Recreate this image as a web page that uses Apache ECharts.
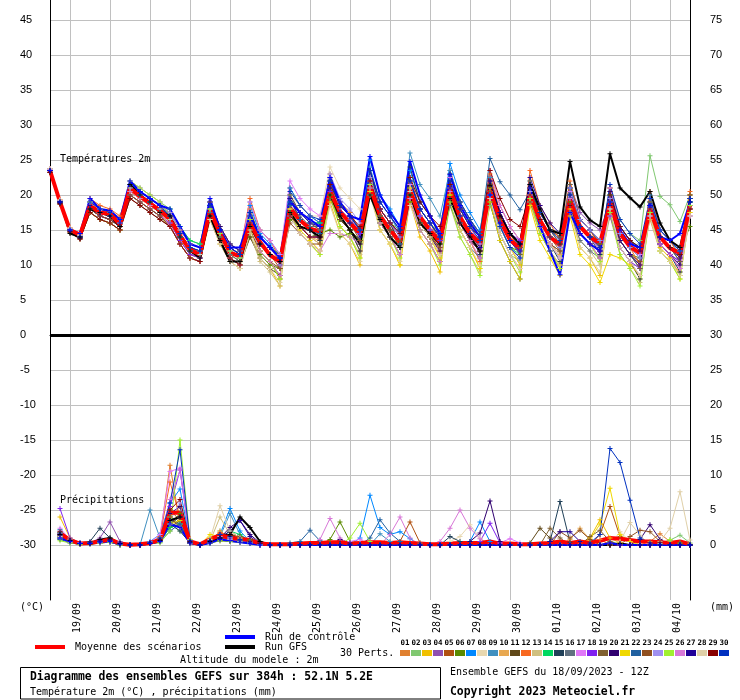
<!DOCTYPE html>
<html><head><meta charset="utf-8">
<script src="https://cdn.jsdelivr.net/npm/echarts@6/dist/echarts.min.js"></script>
<style>html,body{margin:0;padding:0;background:#fff}#chart{width:740px;height:700px}</style>
</head><body><div id="chart"></div>
<script>
// ---------- time base & ticks ----------
const tempHours = [0,6,12,18,24,30,36,42,48,54,60,66,72,78,84,90,96,102,108,114,120,126,132,138,144,150,156,162,168,174,180,186,192,198,204,210,216,222,228,234,240,246,252,258,264,270,276,282,288,294,300,306,312,318,324,330,336,342,348,354,360,366,372,378,384];
const precipHours = tempHours.slice(1);
const gridHours = [12,36,60,84,108,132,156,180,204,228,252,276,300,324,348,372];
const dateLabels = ['19/09','20/09','21/09','22/09','23/09','24/09','25/09','26/09','27/09','28/09','29/09','30/09','01/10','02/10','03/10','04/10'];
const leftTicks = [45,40,35,30,25,20,15,10,5,0,-5,-10,-15,-20,-25,-30];
const rightTicks = [75,70,65,60,55,50,45,40,35,30,25,20,15,10,5,0];
const pertNames = ['01','02','03','04','05','06','07','08','09','10','11','12','13','14','15','16','17','18','19','20','21','22','23','24','25','26','27','28','29','30'];
const pertColors = ['#e08030','#80c870','#f0c000','#9050b0','#b05010','#5a8a00','#0088ff','#e8d8b0','#4090c0','#e8a850','#604818','#f86820','#d0c080','#00d860','#204058','#607080','#e078f8','#8020f0','#806030','#300070','#f0d800','#2060a0','#905020','#a090f0','#a0f030','#d878d8','#200098','#e0d0a8','#880000','#0030c0'];

// ---------- temperature 2m (°C) ----------
const tempMean = [23.5,19,15,14.3,18.5,17.5,17.3,15.8,21,19.8,18.8,17.8,16.5,14.2,12.2,11.5,17.8,14.5,11.8,11.2,16,13.3,11.4,10.5,18.1,16.4,15.2,14.8,20.5,17.6,16,14.5,21.2,17.1,15,13.3,20.7,16.9,15,13.3,20.7,16.9,14.5,13.1,20.7,16.4,13.6,12.4,20,16.4,14,12.9,19.3,15.5,14,13.1,18.8,14.5,12.6,11.7,17.9,14,12.4,11.7,18.5];
const tempControl = [23.5,19,15,14.5,19.5,18,17.8,16.5,22,20.5,19.5,18.5,18,15.5,13,12.5,19.5,15,12.5,12.5,17,14,12.5,11,19,17.5,16.5,15.5,22.5,19,17,16.5,25.5,20,17.5,15.5,24.8,20,17,14.5,22.9,18.5,16,14,20,16,13.5,12,21,15.5,12,8.6,17.5,14.5,13,12,19,15,13,12.5,18.5,14,13.5,14.5,19];
const tempGFS = [23.5,19,14.5,14,18,17.5,17,15.5,21.5,20,19,17.5,17,14,12,11,17,13.5,10.5,10.5,15.5,13,11.5,10.5,17.5,15.5,15,14,20,17,15,13,20,16.5,14,12.5,20,16,14.5,13,19.5,16,14,12,21.4,17,14.5,13,21.5,18,15,14.5,24.8,18.3,16.4,15.5,25.9,21,19.6,18.3,20.5,16,13.5,12.5,19];
const tempP01 = [23.8,19.3,15.3,14.3,18,17,16.5,15.5,20.5,19.5,18.5,17.5,17,14.5,12.5,12,18,14.5,12,11,18,14,12.5,10.5,18,15.5,14,13,23,19,17.5,15,22,17,15,12.5,20.5,16,14,11.5,23.5,19,16.5,14,22.5,17.5,14.5,12.5,19,14.5,12,10,20.5,15.5,14,12,21,15.5,13.5,11.5,18,13,11.5,9.5,20];
const tempP02 = [23.5,19,15,14,19,18,17.5,16.5,22,21,20,19,18,15.5,13.5,13,19,15.5,13,12,16,13,11.5,10.5,19,17.5,16,16,19.5,16.5,15,13.5,21,17,15,13.5,21.5,18,16,14.5,19.5,16,13.5,12,18.5,14.5,11.5,10.5,21,17.5,15,14,19.5,15.5,14,13,21,16.5,14.5,13.5,25.6,19.8,18.6,16.2,20];
const tempP03 = [23.2,18.7,14.7,13.7,17.5,16.5,16,15,20,19,18,17,15.5,13,11,10.5,16.5,13,10.5,9.5,15.5,11,9.5,7,17.5,14.5,13,11.5,19,14.5,13,10,20.5,15,13,10,19,14,12,9,20,15,12.5,9.5,21,15.5,12.5,10,19.5,14.5,12,9.5,18,12.5,11,8.5,18.5,12.5,10.5,8,18,12.5,11,8.5,18.5];
const tempP04 = [23.5,19,15,14,18.5,17.5,17,16,21.5,20.5,19.5,18.5,16,13.5,11.5,11,18.5,15,12.5,11.5,17,14,12.5,11.5,18,16.5,15,15,21,18,16.5,15,22,18,16,14.5,20.5,17,15,13.5,19.5,16,13.5,12,20.5,16.5,13.5,12.5,21,17.5,15,14,21.5,17.5,16,15,19,14.5,12.5,11.5,17,13,11.5,10.5,18];
const tempP05 = [23.7,19.2,15.2,14.2,19,18,17.5,16.5,21,20,19,18,17.5,15,13,12.5,18.5,15,12.5,11.5,17,13,11.5,9.5,21,18.5,17,16,22.5,18.5,17,14.5,22,17,15,12.5,22.5,18,16,13.5,22.5,18,15.5,13,23.5,18.5,15.5,13.5,21,16.5,14,12,19.5,14.5,13,11,21,15.5,13.5,11.5,19,14,12.5,10.5,20];
const tempP06 = [23.5,19,15,14,17.5,16.5,16,15,20,19,18,17,15.5,13,11,10.5,17.5,14,11.5,10.5,14,11.5,10,9.5,16.5,15.5,14,14.5,15,14,14.5,13.5,21.5,18,16,15,19,16,14,13,20,17,14.5,13.5,19,15.5,12.5,12,20.5,17.5,15,14.5,19,15.5,14,13.5,17.5,13.5,11.5,11,17.5,14,12.5,12,15.5];
const tempP07 = [23.5,19,15,14,19,18,17.5,16.5,21.5,20.5,19.5,18.5,16.5,14,12,11.5,19,15.5,13,12,18.5,14.5,13,11,21,18.5,17,16,22.5,18.5,17,14.5,25,20,18,15.5,23.5,19,17,14.5,24.5,20,17.5,15,22.5,17.5,14.5,12.5,20,15.5,13,11,21.5,16.5,15,13,19,13.5,11.5,9.5,19,14,12.5,10.5,19];
const tempP08 = [23.8,19.3,15.3,14.3,18.5,17.5,17,16,21,20,19,18,16.5,14,12,11.5,17,13.5,11,10,17,14,12.5,11.5,20,18.5,17,17,24,21,19.5,18,20,16,14,12.5,18.5,15,13,11.5,19.5,16,13.5,12,20.5,16.5,13.5,12.5,19,15.5,13,12,18.5,14.5,13,12,17,12.5,10.5,9.5,18,14,12.5,11.5,19];
const tempP09 = [23.5,19,15,14,18.5,17.5,17,16,21.5,20.5,19.5,18.5,16.5,14,12,11.5,18.5,15,12.5,11.5,19,15,13.5,11.5,20,17.5,16,15,22.5,18.5,17,14.5,24,19,17,14.5,26,21.5,19.5,17,23.5,19,16.5,14,22.5,17.5,14.5,12.5,22,17.5,15,13,20.5,15.5,14,12,19,13.5,11.5,9.5,20,15,13.5,11.5,19];
const tempP10 = [23.5,19,15,14,18,17,16.5,15.5,21,20,19,18,16,13.5,11.5,11,17,13.5,11,10,16.5,13,11.5,10,17.5,15.5,14,13.5,22,18.5,17,15,21.5,17,15,13,20,16,14,12,21,17,14.5,12.5,22,17.5,14.5,13,19.5,15.5,13,11.5,21,16.5,15,13.5,18.5,13.5,11.5,10,16.5,12,10.5,9,17.5];
const tempP11 = [23.2,18.7,14.7,13.7,17.5,16.5,16,15,19.5,18.5,17.5,16.5,15.5,13,11,10.5,17,13.5,11,10,14,11,9.5,8.5,17,15.5,14,14,19.5,16.5,15,13.5,21,17,15,13.5,19.5,16,14,12.5,20.5,17,14.5,13,20.5,16.5,13.5,12.5,21,17.5,15,14,19.5,15.5,14,13,20,15.5,13.5,12.5,18,14,12.5,11.5,18];
const tempP12 = [23.8,19.3,15.3,14.3,19.5,18.5,18,17,21.5,20.5,19.5,18.5,17.5,15,13,12.5,19,15.5,13,12,19.5,15,13.5,11,19.5,16.5,15,13.5,21,16.5,15,12,23.5,18,16,13,22,17,15,12,21,16,13.5,10.5,23,17.5,14.5,12,23.5,18.5,16,13.5,22,16.5,15,12.5,20.5,14.5,12.5,10,20.5,15,13.5,11,20.5];
const tempP13 = [23.5,19,15,14,17.5,16.5,16,15,21,20,19,18,15.5,13,11,10.5,16.5,13,10.5,9.5,14.5,10.5,9,7,18,15.5,14,13,19.5,15.5,14,11.5,21,16,14,11.5,19.5,15,13,10.5,18.5,14,11.5,9,20.5,15.5,12.5,10.5,19,14.5,12,10,18.5,13.5,12,10,17,11.5,9.5,7.5,17,12,10.5,8.5,17];
const tempP14 = [23.5,19,15,14,18.5,17.5,17,16,21.5,20.5,19.5,18.5,18,15.5,13.5,13,19,15.5,13,12,17,14,12.5,11.5,19,17.5,16,16,19.5,16.5,15,13.5,20,16,14,12.5,20.5,17,15,13.5,21.5,18,15.5,14,19.5,15.5,12.5,11.5,20,16.5,14,13,18.5,14.5,13,12,20,15.5,13.5,12.5,18,14,12.5,11.5,19];
const tempP15 = [23.5,19,15,14,18.5,17.5,17,16,21,20,19,18,16.5,14,12,11.5,18,14.5,12,11,16.5,12,10.5,8,19.5,16.5,15,13.5,21,16.5,15,12,23.5,18,16,13,24,19,17,14,22,17,14.5,11.5,19,13.5,10.5,8,20.5,15.5,13,10.5,21,15.5,14,11.5,18.5,12.5,10.5,8,18.5,13,11.5,9,19.5];
const tempP16 = [23.5,19,15,14,19,18,17.5,16.5,21,20,19,18,16.5,14,12,11.5,17.5,14,11.5,10.5,17,14,12.5,11.5,18.5,17,15.5,15.5,20.5,17.5,16,14.5,20,16,14,12.5,19.5,16,14,12.5,18.5,15,12.5,11,20.5,16.5,13.5,12.5,19,15.5,13,12,17.5,13.5,12,11,19,14.5,12.5,11.5,19,15,13.5,12.5,18];
const tempP17 = [23.7,19.2,15.2,14.2,19,18,17.5,16.5,22,21,20,19,17,14.5,12.5,12,19,15.5,13,12,19,15,13.5,11.5,22,19.5,18,17,22.5,18.5,17,14.5,21,16,14,11.5,21.5,17,15,12.5,22.5,18,15.5,13,23.5,18.5,15.5,13.5,20,15.5,13,11,20.5,15.5,14,12,21,15.5,13.5,11.5,18,13,11.5,9.5,18];
const tempP18 = [23.5,19,15,14,18,17,16.5,15.5,20,19,18,17,16,13.5,11.5,11,17,13.5,11,10,16,13,11.5,10.5,17,15.5,14,14,20.5,17.5,16,14.5,22,18,16,14.5,20.5,17,15,13.5,19.5,16,13.5,12,21.5,17.5,14.5,13.5,20,16.5,14,13,18.5,14.5,13,12,17,12.5,10.5,9.5,17,13,11.5,10.5,17];
const tempP19 = [23.5,19,15,14,18.5,17.5,17,16,20.5,19.5,18.5,17.5,16.5,14,12,11.5,18,14.5,12,11,16,12,10.5,8.5,20,17.5,16,15,21.5,17.5,16,13.5,21,16,14,11.5,19.5,15,13,10.5,21.5,17,14.5,12,21.5,16.5,13.5,11.5,22,17.5,15,13,21.5,16.5,15,13,19,13.5,11.5,9.5,19,14,12.5,10.5,20];
const tempP20 = [23.3,18.8,14.8,13.8,18,17,16.5,15.5,21,20,19,18,16.5,14,12,11.5,19,15.5,13,12,16.5,13,11.5,10,18.5,16.5,15,14.5,22,18.5,17,15,22.5,18,16,14,20,16,14,12,23,19,16.5,14.5,22,17.5,14.5,13,20.5,16.5,14,12.5,21,16.5,15,13.5,20.5,15.5,13.5,12,17.5,13,11.5,10,18.5];
const tempP21 = [23.5,19,15,14,18.5,17.5,17,16,20.5,19.5,18.5,17.5,15.5,13,11,10.5,17,13.5,11,10,16.5,12,10.5,8,18,15,13.5,12,20,15.5,14,11,20.5,15,13,10,21,16,14,11,20,15,12.5,9.5,19,13.5,10.5,8,18.5,13.5,11,8.5,17,11.5,10,7.5,11.5,11,10,8.5,17.5,12,10.5,8,17.5];
const tempP22 = [23.5,19,15,14,18.5,17.5,17,16,21.5,20.5,19.5,18.5,16.5,14,12,11.5,18.5,15,12.5,11.5,17.5,14,12.5,11,18.5,16.5,15,14.5,22,18.5,17,15,21.5,17,15,13,22,18,16,14,23,19,16.5,14.5,25.2,21.9,20,17.9,20.5,16.5,14,12.5,21,16.5,15,13.5,19.5,14.5,12.5,11,19.5,15,13.5,12,19.5];
const tempP23 = [23.5,19,15,14,18,17,16.5,15.5,20,19,18,17,15.5,13,11,10.5,17,13.5,11,10,15,12,10.5,9.5,16,14.5,13,13,19.5,16.5,15,13.5,21,17,15,13.5,19.5,16,14,12.5,19.5,16,13.5,12,20.5,16.5,13.5,12.5,19,15.5,13,12,19.5,15.5,14,13,18,13.5,11.5,10.5,18,14,12.5,11.5,18];
const tempP24 = [23.7,19.2,15.2,14.2,18.5,17.5,17,16,21.5,20.5,19.5,18.5,17.5,15,13,12.5,18,14.5,12,11,16.5,13,11.5,10,19.5,17.5,16,15.5,23,19.5,18,16,22.5,18,16,14,22,18,16,14,21,17,14.5,12.5,20,15.5,12.5,11,20.5,16.5,14,12.5,21,16.5,15,13.5,19.5,14.5,12.5,11,19.5,15,13.5,12,18.5];
const tempP25 = [23.5,19,15,14,19,18,17.5,16.5,22,21,20,19,17,14.5,12.5,12,18,14.5,12,11,16.5,12,10.5,8,17.5,14.5,13,11.5,20,15.5,14,11,21.5,16,14,11,20,15,13,10,19,14,11.5,8.5,20,14.5,11.5,9,19.5,14.5,12,9.5,20,14.5,13,10.5,17.5,11.5,9.5,7,17.5,12,10.5,8,18.5];
const tempP26 = [23.5,19,15,14,18.5,17.5,17,16,20.5,19.5,18.5,17.5,15.5,13,11,10.5,17,13.5,11,10,16,12,10.5,8.5,17,14.5,13,12,14.5,14.5,14,13,21,16,14,11.5,19.5,15,13,10.5,20.5,16,13.5,11,19.5,14.5,11.5,9.5,20,15.5,13,11,19.5,14.5,13,11,18,12.5,10.5,8.5,18,13,11.5,9.5,17];
const tempP27 = [23.5,19,15,14,18.5,17.5,17,16,21,20,19,18,17,14.5,12.5,12,18.5,15,12.5,11.5,17.5,14,12.5,11,19.5,17.5,16,15.5,21,17.5,16,14,23.5,19,17,15,22,18,16,14,21,17,14.5,12.5,22,17.5,14.5,13,22.5,18.5,16,14.5,20,15.5,14,12.5,18.5,13.5,11.5,10,18.5,14,12.5,11,19.5];
const tempP28 = [23.8,19.3,15.3,14.3,19,18,17.5,16.5,21,20,19,18,16.5,14,12,11.5,16.5,13,10.5,9.5,15,11,9.5,7.5,17,14.5,13,12,18.5,14.5,13,10.5,20,15,13,10.5,20.5,16,14,11.5,19.5,15,12.5,10,19.5,14.5,11.5,9.5,20,15.5,13,11,17.5,12.5,11,9,18,12.5,10.5,8.5,17,12,10.5,8.5,17];
const tempP29 = [23.2,18.7,14.7,13.7,17.5,16.5,16,15,19.5,18.5,17.5,16.5,15.5,13,11,10.5,17,13.5,11,10,16,13,11.5,10.5,17,15.5,14,14,21.5,18.5,17,15.5,22,18,16,14.5,22.5,19,17,15.5,21.5,18,15.5,14,23.5,19.5,16.5,15.5,20,16.5,14,13,18.5,14.5,13,12,20,15.5,13.5,12.5,18,14,12.5,11.5,18];
const tempP30 = [23.5,19,15,14,19,18,17.5,16.5,21.5,20.5,19.5,18.5,17,14.5,12.5,12,18.5,15,12.5,11.5,17.5,14,12.5,11,20.5,18.5,17,16.5,22,18.5,17,15,23.5,19,17,15,22,18,16,14,22,18,15.5,13.5,20,15.5,12.5,11,21.5,17.5,15,13.5,20,15.5,14,12.5,21.5,16.5,14.5,13,19.5,15,13.5,12,19.5];

// ---------- precipitation (mm per 6h) ----------
const precMean = [1.7,0.7,0.2,0.3,0.5,0.8,0.2,0.05,0.1,0.3,0.7,4.6,4.6,0.5,0.1,0.8,1.4,1.0,0.9,0.7,0.2,0.1,0.1,0.1,0.2,0.3,0.3,0.4,0.4,0.2,0.3,0.4,0.4,0.3,0.4,0.3,0.2,0.1,0.1,0.2,0.3,0.3,0.3,0.5,0.2,0.2,0.1,0.1,0.2,0.3,0.5,0.3,0.5,0.3,0.6,1.0,0.9,0.7,0.5,0.5,0.4,0.3,0.5,0.1];
const precControl = [1.0,0.5,0.2,0.2,0.4,0.5,0.1,0,0,0.2,0.5,3.0,2.5,0.3,0,0.3,0.8,0.6,0.4,0.2,0,0,0,0,0,0,0,0,0,0,0,0,0,0,0,0,0,0,0,0,0,0,0,0,0,0,0,0,0,0,0,0,0,0,0,0.3,0,0,0,0,0,0,0,0];
const precGFS = [1.5,0.6,0.2,0.2,0.8,1.0,0.2,0,0,0.2,0.6,3.5,4.0,0.4,0,0.5,1.0,1.5,4.0,2.5,0.5,0,0,0,0,0,0,0,0,0,0,0,0,0,0,0,0,0,0,0,0,0,0,0,0,0,0,0,0,0,0,0,0,0,0,0,0.2,0,0,0,0,0,0,0];
const precP01 = [1.5,0.8,0.2,0.3,0.5,0.8,0.2,0,0,0.3,1.0,11.4,3.0,0.5,0,0.5,1.5,1.0,0.8,0.5,0.2, 0,0,0,0,0,0,0,0,0,0, 0,0,0,0,0,0,0,0,0,0, 0,0,0,0,0,0,0,0,0,0, 0,0,0,0,0.3,0.3,0,0,0.5,1.6, 0.5,0,0.1];
const precP02 = [0.8,0.5,0.2,0.2,0.3,0.5,0,0,0,0.2,0.5,3.0,2.0,0.3,0,0.5,2.0,1.0,0.5,0.3,0, 0,0,0,0,0,0,0,0,0,0, 0,0,0,0,0,0,0,0,0,0, 0,0,0,0,0,0,0,0,0,0, 0,0,0,0,0.5,0.2,0,0,0,0.2, 0.7,1.4,0.3];
const precP03 = [4.0,1.0,0.3,0.3,0.5,0.5,0.2,0,0,0.3,0.8,4.0,3.0,0.5,0,1.0,1.5,0.5,0.5,0.3,0, 0,0,0,0,0,0,0,0,0,0, 0,0,0,0,0,0,0,0,0,0, 0,0,0,0,0,0,0,0,0,0, 0,0,1.0,3.6,1.0,0.3,0,0,0,0, 0,0,0];
const precP04 = [2.0,0.5,0.2,0.3,1.0,3.3,0.5,0,0,0.2,0.5,3.5,4.0,0.2,0,0.3,0.8,1.2,0.5,0.2,0, 0,0,0,0,0,0,0,0,0,0, 0,0,0,0,0,0.3,0,0,0,0, 0,0,0,0,0,0,0,0,0,0, 0,0,0,0,0,0,0,0,0,0, 0,0,0];
const precP05 = [1.2,0.6,0.2,0.2,0.5,0.6,0.2,0,0,0.3,0.5,5.0,3.5,0.3,0,0.5,1.0,2.0,1.0,0.5,0.2, 0,0,0,0,0,0,0,0,0,0, 0,0,0,0.5,3.3,0.3,0,0,0,0, 0,0,0,0,0,0,0,0,0,0, 0,0,0,1.5,5.5,1.2,0.5,0,0,0, 0,0,0];
const precP06 = [1.0,0.5,0.1,0.2,0.4,0.8,0.2,0,0,0.2,0.6,3.0,4.5,0.5,0,0.5,1.2,1.5,1.0,0.8,0.2, 0,0,0,0,0,0,0.8,3.3,0.5,0, 0,0,0,0,0,0,0,0,0,0, 0,0,0,0,0,0,0,0,0,0, 0,0,0,0,0,0,0,0,0,0, 0,0,0];
const precP07 = [1.8,0.8,0.3,0.3,0.5,0.6,0.2,0,0,0.5,1.5,6.0,8.0,0.5,0,0.8,1.5,5.2,2.0,0.5,0, 0,0,0,0,0,0,0,0,0,1.0, 7.1,2.5,1.5,1.9,0.9,0,0,0,0,0, 0.5,3.3,0.5,0,0,0,0,0,0,0, 0,0,0,0,0,0,0,0,0,0, 0,0,0];
const precP08 = [1.0,0.4,0.1,0.2,0.3,0.4,0,0,0,0.2,0.5,4.5,2.5,0.2,0,0.4,1.0,1.5,0.8,0.4,0, 0,0,0,0,0,0,0,0,0,0, 0,0,0,0,0,0,0,0,0.5,1.2, 2.9,1.0,0,0,0,0,0,0,0,0, 0,0,0,0,0,1.9,0.5,0,0,0, 0,0,0];
const precP09 = [2.2,0.7,0.2,0.3,0.4,0.5,0.3,0,0,5.0,1.0,4.0,3.0,0.3,0,0.6,1.2,4.5,1.5,0.5,0.2, 0,0,0,0,0,0,0,0,0,0, 0,1.6,0.5,0,0,0,0,0,0,0, 0,0,0,0,0,0,0,0,0,0, 0,0,0,0,0,0,0,0,0,0, 0,0,0];
const precP10 = [1.4,0.5,0.2,0.2,0.6,0.7,0.2,0,0,0.2,0.8,4.0,5.5,0.4,0,0.5,2.0,1.0,0.6,0.3,0, 0,0,0,0,0,0,0,0,0,0, 0,0,0,0,0,0,0,0,0,0, 0,0,0,0,0,0,0,0,0,0, 0.8,2.4,0.8,0,0,0,0,0,0,0, 0,0,0];
const precP11 = [0.9,0.4,0.1,0.1,0.3,0.4,0,0,0,0.2,0.6,2.5,3.5,0.3,0,0.3,0.6,0.5,0.4,0.2,0, 0,0,0,0,0,0,0,0,0,0, 0,0,0,0,0,0,0,0,0,0, 0,0,0,0,0,0,0.3,2.4,1.0,0, 0,0,0,0,0,0,0,0,0,0, 0,0,0];
const precP12 = [1.6,0.6,0.2,0.3,0.5,0.6,0.2,0,0,0.3,1.2,9.0,4.0,0.5,0,0.6,1.8,1.2,0.8,0.5,0.2, 0,0,0,0,0,0,0,0,0,0, 0,0,0,0,0,0,0,0,0,0, 0,0,0,0,0,0,0,0,0,0, 0,0,0,0.8,0,0,0,0,0,0, 0,0,0];
const precP13 = [1.3,0.5,0.2,0.2,0.4,0.5,0.2,0,0,0.2,0.8,3.5,2.5,0.4,0,0.5,4.0,1.5,0.8,0.4,0, 0,0,0,0,0,0,0,0,0,0, 0,0,0,0,0,0,0,0,0,0, 0,0,0,0,0,0,0,0,0,0, 0,0.5,0,0,0,0,0,0,0,0, 0,0,0];
const precP14 = [1.1,0.5,0.2,0.2,0.4,0.6,0.2,0,0,0.3,0.5,2.5,3.0,0.3,0,0.4,1.0,2.0,1.5,0.5,0, 0,0,0,0,0,0,0,0,0,0, 0,0,0,0,0,0,0,0,0,0, 0,0,0,0,0,0,0,0,0,0, 0,0,0,0,0,0,0,0,0,0, 0,0.3,0];
const precP15 = [1.7,0.6,0.3,0.5,2.4,1.0,0.3,0,0,0.3,0.6,3.0,2.0,0.3,0,0.5,1.2,1.0,0.6,0.3,0, 0,0,0,0,0,0,0,0,0,0, 0,0,0,0,0,0,0,0,1.2,0.5, 0,0,0,0,0,0,0,0,0.5,6.2, 0.4,0,0,0,0,0,0,0,0,0, 0,0,0];
const precP16 = [1.2,0.5,0.2,0.2,0.4,0.5,0.2,0,0,0.2,0.6,3.5,3.0,0.3,0,0.4,0.8,0.8,0.5,0.3,0, 0,0,0,0,0,0,0,0,0,0, 0,0,0,0,0,0,0,0,0,0, 0,0,0,0,0,0,0,0,0,0, 0,0,0,0,0,0,0,0,0,0, 0,0,0];
const precP17 = [2.4,0.8,0.3,0.3,0.5,0.7,0.2,0,0,0.4,1.5,10.5,11.0,0.8,0,0.6,1.5,1.0,0.8,0.5,0.2, 0,0,0,0,0,0,0,0,0.5,0.8, 0,0,0,0,0,0,0,0,0,0, 0,0,0,0.3,0.9,0.3,0,0,0,0, 0,0,0,0,0,0,0,0,0,0, 0,0,0];
const precP18 = [5.2,1.0,0.3,0.3,0.6,0.8,0.3,0,0,0.3,0.8,5.5,10.7,0.6,0,0.5,1.0,0.8,0.5,0.3,0, 0,0,0,0,0,0,0,0,0,0, 0,0,0,0,0,0,0,0,0,0, 0,0.5,3.1,0.3,0,0,0,0,0,0, 0,0,0,0,0,0,0,0,0,0, 0,0,0];
const precP19 = [1.0,0.5,0.2,0.2,0.4,0.5,0.2,0,0,0.2,0.5,3.0,4.0,0.3,0,0.4,0.8,1.5,1.2,0.6,0.2, 0,0,0,0,0,0,0,0,0,0, 0,0,0,0,0,0,0,0,0,0, 0,0,0,0,0,0,0,0,2.4,1.0, 0,0,1.2,2.1,0.5,0,0,0,0,0, 0,0,0];
const precP20 = [1.5,0.6,0.2,0.3,0.6,0.8,0.2,0,0,0.3,0.8,4.5,5.5,0.5,0,0.5,1.0,2.5,3.5,1.5,0.3, 0,0,0,0,0,0,0,0.8,0.3,0, 0,0,0,0,0,0,0,0,0,0, 0.5,1.7,6.3,0.5,0,0,0,0,0,0, 0,0,0,0,0,0,0,0.8,2.9,0.8, 0,0,0];
const precP21 = [1.8,0.7,0.2,0.3,0.5,0.6,0.2,0,0,0.3,0.6,3.0,3.5,0.5,0,1.5,1.2,0.8,0.5,0.3,0, 0,0,0,0,0,0,0,0,0,0, 0,0,0,0,0,0,0,0,0,0, 0,0,0,0,0,0,0,0,0,0, 0,0,0.8,3.0,8.1,1.5,0.5,0,0,0, 0,0,0];
const precP22 = [0.8,0.3,0.1,0.2,0.3,0.4,0,0,0,0.2,0.4,2.0,3.0,0.2,0,0.3,0.8,1.0,0.6,0.3,0, 0,0,0.3,0.5,2.1,0.6,0,0,0,0, 1.0,3.6,1.7,0.5,0,0,0,0,0,0, 0,0,0,0,0,0,0,0,0,0, 0,0,0,0,0,0,0,0,0,0, 0,0,0];
const precP23 = [1.3,0.5,0.2,0.2,0.4,0.6,0.2,0,0,0.2,0.6,4.0,2.5,0.3,0,0.5,1.0,1.5,1.2,0.6,0.2, 0,0,0,0,0,0,0,0,0,0, 0,0,0,0,0,0,0,0,0,0, 0,0,0,0,0,0,0,0,0,1.9, 1.0,2.1,0.8,0,0,0,1.2,2.1,1.9,0.5, 0,0,0];
const precP24 = [1.0,0.4,0.2,0.2,0.3,0.5,0.2,0,0,0.2,0.5,3.5,6.0,0.4,0,0.4,0.8,0.8,0.5,0.3,0, 0,0,0,0,0,0,0,0,0,0, 0,0,0,0,0,0,0,0,0,0, 0,0,0,0,0,0,0,0,0,0, 0,0,0,0,0,0,0,0,0,0.3, 0,0,0];
const precP25 = [0.6,0.3,0.1,0.2,0.3,0.4,0,0,0,0.2,0.3,2.0,15.0,0.8,0,0.3,0.6,0.5,0.4,0.2,0, 0,0,0,0,0,0,0,0,1.0,3.1, 0.5,0,0,0,0,0,0,0,0,0, 0,0,0,0,0,0,0,0,0,0, 0,0,0,0,0,0,0,0,0,0, 0.8,0,0];
const precP26 = [1.6,0.6,0.2,0.3,0.5,0.6,0.2,0,0,0.3,0.8,6.5,10.7,0.6,0,0.5,1.2,1.0,0.8,0.4,0, 0,0,0,0,0,0.8,3.8,1.0,0,0, 0,0,1.5,4.0,1.0,0,0,0.5,2.4,5.0, 2.4,0.9,0,0,0,0,0,0,0,0, 0,0,0,0,0,0,0,0,0,0, 0,0,0];
const precP27 = [1.4,0.6,0.2,0.3,0.5,0.6,0.2,0,0,0.3,0.6,3.5,4.0,0.4,0,0.4,1.0,2.0,3.5,1.2,0.2, 0,0,0,0,0,0,0,0,0,0, 0,0,0,0,0,0,0,0,0,0, 0,0,0,0,0,0,0,0,0.5,1.9, 1.9,0.5,0,0,0,0,0,0,0,0, 0,0,0];
const precP28 = [1.2,0.5,0.2,0.2,0.4,0.5,0.2,0,0,0.2,0.5,3.0,2.5,0.3,0,0.8,5.6,2.0,1.0,0.5,0, 0,0,0,0,0,0,0,0,0,0, 0,0,0,0,0,0,0,0,0,0, 0,0,0,0,0,0,0,0,0,0, 0,0,0,0,0,0.5,3.2,1.4,0,0.5, 2.4,7.6,0.7];
const precP29 = [1.9,0.7,0.2,0.3,0.5,0.7,0.2,0,0,0.3,0.8,5.0,6.5,0.5,0,0.6,1.5,1.5,0.8,0.5,0.2, 0,0,0,0,0,0,0,0,0,0, 0,0,0,0,0,0,0,0,0,0, 0,0,0,0,0,0,0,0,0,0, 0,0,0,0,0,0,0,0,0,0.4, 0,0,0];
const precP30 = [1.7,0.6,0.2,0.3,0.5,0.6,0.2,0,0,0.3,1.0,6.0,13.6,0.6,0,0.6,1.5,1.2,0.8,0.4,0, 0,0,0,0,0,0,0,0,0,0, 0,0,0,0,0,0,0,0,0,0, 0,0,0,0,0,0,0,0,0,0, 0,0,0.3,1.5,13.8,11.8,6.4,1.0,0.3,0, 0,0,0];

const tempPerts = [tempP01,tempP02,tempP03,tempP04,tempP05,tempP06,tempP07,tempP08,tempP09,tempP10,tempP11,tempP12,tempP13,tempP14,tempP15,tempP16,tempP17,tempP18,tempP19,tempP20,tempP21,tempP22,tempP23,tempP24,tempP25,tempP26,tempP27,tempP28,tempP29,tempP30];
const precPerts = [precP01,precP02,precP03,precP04,precP05,precP06,precP07,precP08,precP09,precP10,precP11,precP12,precP13,precP14,precP15,precP16,precP17,precP18,precP19,precP20,precP21,precP22,precP23,precP24,precP25,precP26,precP27,precP28,precP29,precP30];

// ---------- chart ----------
const MONO = '"DejaVu Sans Mono","Liberation Mono",monospace';
const SANS = '"Liberation Sans","DejaVu Sans",sans-serif';
const PLUS = 'path://M2,0H3V2H5V3H3V5H2V3H0V2H2Z';
const PX_PER_UNIT = 7;              // 7 px per °C / mm
const leftMin = -265 / PX_PER_UNIT, leftMax = 335 / PX_PER_UNIT;
const precipShift = 30;             // right axis = left axis + 30
const labelShift = 4.6;             // hours: date text sits just right of its gridline

function pairs(hours, vals){ return vals.map((v,i)=>[hours[i], v]); }
function line(name, hours, vals, color, width, yIdx, sym){
  return { name, type:'line', xAxisIndex:0, yAxisIndex:yIdx, data:pairs(hours, vals),
    symbol: sym ? PLUS : 'none', symbolSize:5, showSymbol:!!sym,
    lineStyle:{color, width}, itemStyle:{color}, silent:true, animation:false, clip:true };
}
const series = [];
tempPerts.forEach((a,k)=>series.push(line('T'+pertNames[k], tempHours, a, pertColors[k], 1, 0, true)));
precPerts.forEach((a,k)=>series.push(line('P'+pertNames[k], precipHours, a, pertColors[k], 1, 1, true)));
series.push(line('GFS T', tempHours, tempGFS, '#000000', 2, 0, true));
series.push(line('GFS P', precipHours, precGFS, '#000000', 2, 1, true));
series.push(line('Ctrl T', tempHours, tempControl, '#0000ff', 2, 0, true));
series.push(line('Ctrl P', precipHours, precControl, '#0000ff', 2, 1, true));
const meanT = line('Mean T', tempHours, tempMean, '#ff0000', 4, 0, false);
meanT.markLine = { silent:true, symbol:'none', animation:false, label:{show:false},
  lineStyle:{color:'#000', width:1, type:'solid'},
  data:[{yAxis: 1/PX_PER_UNIT},{yAxis: -1/PX_PER_UNIT}] };
series.push(meanT);
series.push(line('Mean P', precipHours, precMean, '#ff0000', 4, 1, false));

function txt(x,y,text,font,align){
  return {type:'text', x, y, silent:true, z:100,
    style:{text, font, fill:'#000', align:align||'left', verticalAlign:'middle', textAlign:align||'left', textVerticalAlign:'middle'}};
}
const F10 = '10px '+MONO, FB = 'bold 11.4px '+MONO;
const graphic = [
  txt(60,159,'Températures 2m',F10),
  txt(60,500,'Précipitations',F10),
  txt(20,607,'(°C)',F10),
  txt(710,607,'(mm)',F10),
  {type:'rect', shape:{x:35,y:645,width:30,height:4}, style:{fill:'#ff0000'}},
  txt(75,647,'Moyenne des scénarios',F10),
  {type:'rect', shape:{x:225,y:635,width:30,height:4}, style:{fill:'#0000ff'}},
  txt(265,637,'Run de contrôle',F10),
  {type:'rect', shape:{x:225,y:645,width:30,height:4}, style:{fill:'#000000'}},
  txt(265,647,'Run GFS',F10),
  txt(340,653,'30 Perts.',F10),
  txt(180,660,'Altitude du modele : 2m',F10),
  {type:'rect', shape:{x:20.5,y:667.5,width:420,height:31.5}, style:{fill:'none', stroke:'#000', lineWidth:1}},
  txt(30,677,'Diagramme des ensembles GEFS sur 384h : 52.1N 5.2E',FB),
  txt(30,692,'Température 2m (°C) , précipitations (mm)',F10),
  txt(450,672,'Ensemble GEFS du 18/09/2023 - 12Z',F10),
  txt(450,692,'Copyright 2023 Meteociel.fr',FB)
];
pertNames.forEach((n,k)=>{
  graphic.push({type:'rect', shape:{x:400+11*k, y:650, width:10, height:6}, style:{fill:pertColors[k]}});
  graphic.push(txt(405+11*k, 643, n, 'bold 7.5px '+MONO, 'center'));
});

const chart = echarts.init(document.getElementById('chart'), null, {width:740, height:700, renderer:'canvas'});
chart.setOption({
  animation:false,
  backgroundColor:'#ffffff',
  grid:{left:50, right:50, top:0, height:600, containLabel:false},
  xAxis:{type:'value', min:0, max:384,
    axisLine:{show:true, lineStyle:{color:'#000', width:1}},
    axisTick:{show:false, customValues:gridHours},
    splitLine:{show:true, lineStyle:{color:'#c0c0c0', width:1}},
    axisLabel:{show:true, customValues:gridHours.map(h=>h+labelShift), rotate:90, margin:3,
      fontFamily:MONO, fontSize:10, color:'#000',
      formatter:(v)=>dateLabels[Math.round((v-labelShift-gridHours[0])/24)]}},
  yAxis:[
    {type:'value', position:'left', min:leftMin, max:leftMax,
      axisLine:{show:true, lineStyle:{color:'#000', width:1}},
      axisTick:{show:false, customValues:leftTicks},
      splitLine:{show:true, lineStyle:{color:'#c0c0c0', width:1}},
      axisLabel:{customValues:leftTicks, align:'left', margin:30, fontFamily:SANS, fontSize:11, color:'#000'}},
    {type:'value', position:'right', min:leftMin+precipShift, max:leftMax+precipShift,
      axisLine:{show:true, lineStyle:{color:'#000', width:1}},
      axisTick:{show:false, customValues:rightTicks},
      splitLine:{show:false},
      axisLabel:{customValues:rightTicks, align:'left', margin:20, fontFamily:SANS, fontSize:11, color:'#000'}}
  ],
  series,
  graphic
});
</script>
</body></html>
